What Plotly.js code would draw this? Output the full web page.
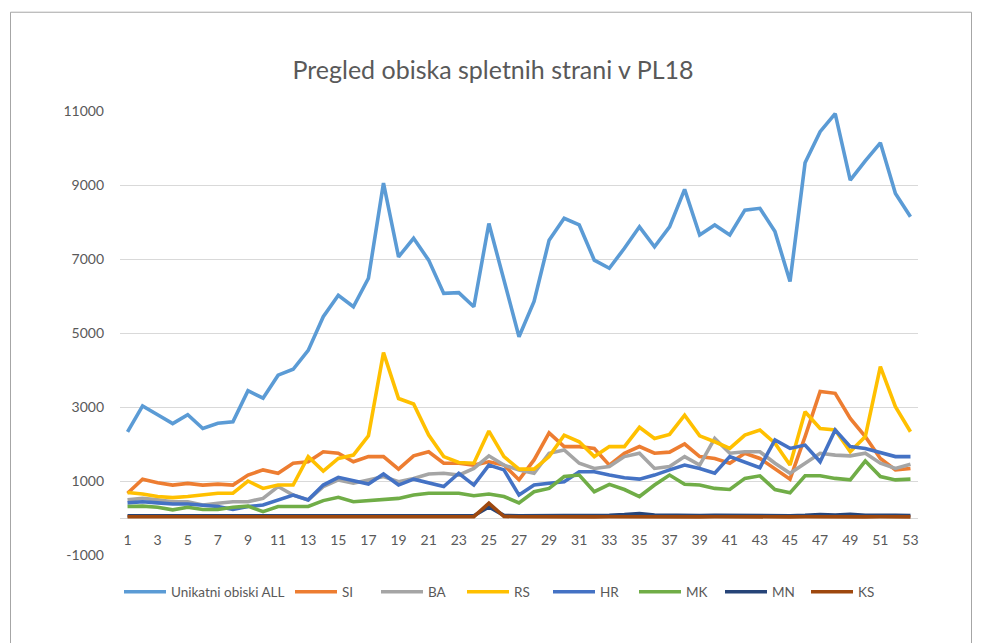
<!DOCTYPE html>
<html>
<head>
<meta charset="utf-8">
<script src="https://cdn.plot.ly/plotly-3.0.1.min.js"></script>
<style>
html,body{margin:0;padding:0;background:#fff;}
#chart{width:982px;height:643px;}
</style>
</head>
<body>
<div id="chart"></div>
<script>
const weeks = [1,2,3,4,5,6,7,8,9,10,11,12,13,14,15,16,17,18,19,20,21,22,23,24,25,26,27,28,29,30,31,32,33,34,35,36,37,38,39,40,41,42,43,44,45,46,47,48,49,50,51,52,53];
const seriesNames = ["Unikatni obiski ALL","SI","BA","RS","HR","MK","MN","KS"];
const uniqueAll = [2330,3030,2790,2550,2790,2420,2560,2600,3440,3240,3860,4020,4530,5440,6020,5710,6480,9050,7060,7560,6970,6070,6090,5710,7960,6430,4900,5850,7510,8100,7920,6970,6750,7290,7870,7330,7870,8880,7650,7920,7650,8320,8370,7740,6390,9600,10440,10930,9130,9650,10140,8770,8140];
const si = [670,1050,955,890,935,890,915,890,1160,1300,1210,1480,1520,1790,1750,1520,1660,1660,1320,1680,1790,1480,1480,1430,1520,1430,1030,1570,2300,1930,1930,1880,1430,1750,1930,1750,1780,2000,1660,1610,1480,1750,1610,1340,1050,2200,3420,3370,2690,2200,1610,1300,1340];
const ba = [490,530,490,440,440,350,400,440,440,530,850,620,490,850,1030,940,1030,1120,980,1070,1190,1210,1160,1340,1680,1430,1300,1210,1750,1840,1480,1340,1390,1660,1750,1340,1390,1660,1430,2150,1750,1790,1790,1480,1210,1480,1750,1700,1680,1750,1480,1340,1450];
const rs = [690,650,580,550,580,620,670,670,1000,800,890,890,1660,1270,1610,1700,2220,4470,3230,3080,2240,1660,1500,1480,2350,1660,1320,1320,1660,2240,2060,1660,1930,1930,2450,2150,2260,2780,2220,2060,1880,2240,2380,2020,1430,2870,2420,2380,1790,2200,4090,3010,2330];
const hr = [410,440,410,380,380,350,310,230,310,350,490,620,490,890,1100,1010,920,1190,890,1050,940,850,1210,890,1430,1300,620,890,940,980,1250,1250,1160,1090,1050,1160,1300,1430,1340,1210,1660,1520,1360,2110,1880,1970,1520,2380,1930,1880,1770,1660,1660];
const mk = [310,320,290,220,290,230,230,290,320,170,310,310,310,470,560,440,470,490,530,620,670,670,670,600,650,580,410,710,800,1120,1160,710,910,770,580,890,1160,910,890,800,770,1070,1140,770,680,1140,1140,1070,1030,1540,1120,1030,1050];
const mn = [60,60,55,55,60,55,60,55,60,60,55,60,60,65,60,60,65,60,60,65,60,70,60,60,300,70,60,60,65,60,65,60,70,90,120,80,70,70,65,70,65,70,70,65,60,70,90,80,100,75,80,70,65];
const ks = [35,35,30,30,35,30,30,35,30,30,35,30,35,30,30,35,30,30,35,30,35,30,30,35,400,40,35,30,30,35,30,30,35,30,35,30,30,35,30,35,30,30,35,30,30,35,30,35,30,30,35,30,30];
const yTicks = [-1000,1000,3000,5000,7000,9000,11000];
const xTicks = [1,3,5,7,9,11,13,15,17,19,21,23,25,27,29,31,33,35,37,39,41,43,45,47,49,51,53];

const colors = ["#5B9BD5","#ED7D31","#A5A5A5","#FFC000","#4472C4","#70AD47","#264478","#9E480E"];
const values = [uniqueAll, si, ba, rs, hr, mk, mn, ks];
const FONT = "Lato, 'Open Sans', sans-serif";

const traces = values.map((v, i) => ({
  x: weeks, y: v, type: "scatter", mode: "lines",
  name: seriesNames[i],
  line: {color: colors[i], width: 3.6, shape: "linear"},
  legend: i === 0 ? "legend" : "legend2",
  hoverinfo: "skip"
}));

const L = 120, R = 918, T = 110.5, B = 555.5;
const W = 982, H = 643;
const pw = R - L, ph = B - T;

const layout = {
  width: W, height: H,
  margin: {l: L, r: W - R, t: T, b: H - B, pad: 0},
  paper_bgcolor: "#ffffff", plot_bgcolor: "#ffffff",
  font: {family: FONT, color: "#595959", size: 14},
  title: {
    text: "Pregled obiska spletnih strani v PL18",
    font: {family: FONT, size: 25, color: "#595959"},
    x: 493/W, xref: "container", xanchor: "center",
    y: 1 - 70/H, yref: "container", yanchor: "middle"
  },
  xaxis: {
    range: [0.5, 53.5],
    tickmode: "array", tickvals: xTicks, ticktext: xTicks.map(String),
    showgrid: false, zeroline: false, showline: false,
    ticks: "", ticklabelstandoff: 12,
    anchor: "free", position: (B - 518) / ph,
    tickfont: {family: FONT, size: 14, color: "#595959"}
  },
  yaxis: {
    range: [-1000, 11000],
    tickmode: "array", tickvals: yTicks, ticktext: yTicks.map(String),
    showgrid: true, gridcolor: "#d9d9d9", gridwidth: 1,
    zeroline: true, zerolinecolor: "#d9d9d9", zerolinewidth: 1,
    showline: false, ticks: "", ticklabelstandoff: 15,
    tickfont: {family: FONT, size: 14, color: "#595959"}
  },
  showlegend: true,
  legend: {
    orientation: "h", xref: "container", yref: "container",
    x: 119/W, xanchor: "left", y: 1 - 592/H, yanchor: "middle",
    font: {family: FONT, size: 13.5, color: "#595959"},
    itemwidth: 42, bgcolor: "rgba(0,0,0,0)", borderwidth: 0
  },
  legend2: {
    orientation: "h", xref: "container", yref: "container",
    x: 290/W, xanchor: "left", y: 1 - 592/H, yanchor: "middle",
    font: {family: FONT, size: 13.5, color: "#595959"},
    itemwidth: 42, entrywidth: 29, bgcolor: "rgba(0,0,0,0)", borderwidth: 0
  },
  shapes: [{
    type: "rect", xref: "paper", yref: "paper",
    x0: (10.5 - L) / pw, x1: (971.5 - L) / pw,
    y0: (B - 700) / ph, y1: (B - 11.5) / ph,
    line: {color: "#a6a6a6", width: 1}, fillcolor: "rgba(0,0,0,0)", layer: "below"
  }]
};

Plotly.newPlot("chart", traces, layout, {displayModeBar: false, staticPlot: true});
</script>
</body>
</html>
